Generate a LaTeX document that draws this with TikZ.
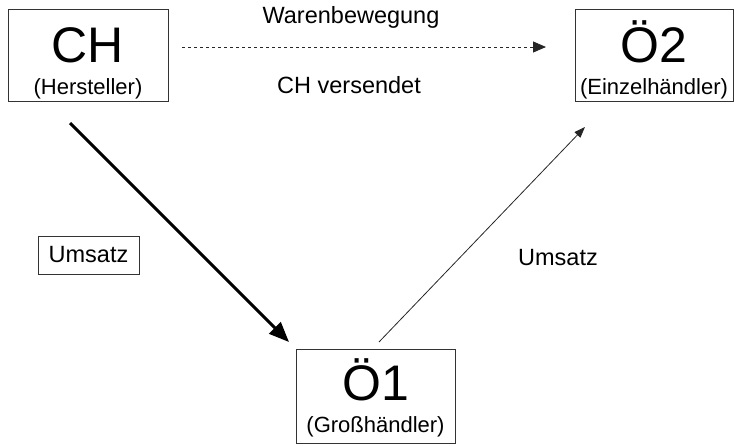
\documentclass[tikz,border=0pt]{standalone}
\usepackage{fontspec}
\setmainfont{Liberation Sans}
\usetikzlibrary{arrows.meta}
\begin{document}
\begin{tikzpicture}[x=1pt,y=-1pt,
  box/.style={draw=black!80,line width=0.9pt,inner sep=0pt},
  bigtxt/.style={anchor=base,inner sep=0pt,font=\fontsize{50}{56}\selectfont},
  subtxt/.style={anchor=base,inner sep=0pt,font=\fontsize{22}{26}\selectfont},
  lbl/.style={inner sep=0pt,font=\fontsize{23.5}{28}\selectfont},
  flow/.style={draw=black,line width=3pt,-{Triangle[length=20pt,width=16pt]}},
  sales/.style={draw=black!85,line width=0.8pt,-{Triangle[length=11pt,width=8pt]}},
  goods/.style={draw=black!85,line width=0.9pt,dash pattern=on 3pt off 3pt,-{Triangle[length=13pt,width=11pt]}}
]
\useasboundingbox (0,0) rectangle (734,445);

% boxes
\node[box,minimum width=160pt,minimum height=92pt] (ch) at (88,55) {};
\node[box,minimum width=158pt,minimum height=92pt] (oe2) at (654,55) {};
\node[box,minimum width=159pt,minimum height=94pt] (oe1) at (375.5,396) {};
\node[box,minimum width=101pt,minimum height=38pt] (umsatzbox) at (88.5,255) {};

% box texts
\node[bigtxt] (chname) at (88,62) {CH};
\node[subtxt] (chrole) at (88,94) {(Hersteller)};
\node[bigtxt] (oe2name) at (654,62) {Ö2};
\node[subtxt] (oe2role) at (654,94) {(Einzelhändler)};
\node[bigtxt] (oe1name) at (375.5,400) {Ö1};
\node[subtxt] (oe1role) at (375.5,432) {(Großhändler)};
\node[lbl] (umsatzleft) at (umsatzbox.center) {Umsatz};

% free labels
\node[lbl] (waren) at (351,17) {Warenbewegung};
\node[lbl] (versendet) at (349,85) {CH versendet};
\node[lbl] (umsatzright) at (558,258) {Umsatz};

% connector ends
\coordinate (chout) at (70,123);
\coordinate (oe1in) at (289,342);
\coordinate (oe1out) at (379,342);
\coordinate (oe2in) at (585,127);
\coordinate (goodsstart) at (182,47);
\coordinate (goodsend) at (546,47);

% connectors
\draw[flow] (chout) -- (oe1in);
\draw[sales] (oe1out) -- (oe2in);
\draw[goods] (goodsstart) -- (goodsend);
\end{tikzpicture}
\end{document}
